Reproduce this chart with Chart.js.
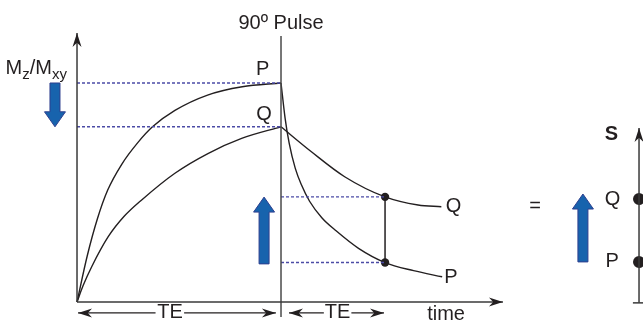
<!DOCTYPE html>
<html>
<head>
<meta charset="utf-8">
<script src="https://cdn.jsdelivr.net/npm/chart.js@4.4.1/dist/chart.umd.min.js"></script>
<style>
  html, body { margin: 0; padding: 0; background: #fff; }
  #wrap { width: 643px; height: 324px; }
</style>
</head>
<body>
<div id="wrap"><canvas id="relaxChart"></canvas></div>
<script>
// --- values ---
// time: 0 = start of recovery, 100 = 90º pulse; signal: 0 = baseline, 100 = P before the pulse
const recoveryPTime   = [0, 5, 10, 15, 22, 30, 37, 48, 64, 81, 100];
const recoveryPSignal = [0, 21, 38, 51, 63, 73, 80, 87.5, 94.5, 98.3, 100];
const recoveryQTime   = [0, 3, 7.2, 15.3, 23, 31.7, 48, 64.4, 80.7, 100];
const recoveryQSignal = [0, 7.5, 16.1, 29.8, 39, 46.6, 58.8, 67.9, 74.7, 80];

const decayPTime   = [100, 102, 104, 107, 110, 114, 120, 127, 138, 151, 165, 179];
const decayPSignal = [100, 84, 72.5, 61, 53.5, 46, 38.5, 32.5, 24.5, 18, 14.3, 11.5];
const decayQTime   = [100, 114.9, 131.2, 151, 167.2, 178.6];
const decayQSignal = [80, 68.6, 57.2, 48, 44.3, 43.5];

const pulseTime = 100;
const echoTime = 151;
const echoQ = 48;
const echoP = 18;

// right-hand signal scale
const signalAxisTime = 275.5;
const signalQ = 47;
const signalP = 18.3;

// TE spans (start, end of each arrow half)
const teLeftSpan  = [[0.5, 38.5], [52.5, 97.5]];
const teRightSpan = [[103.9, 121], [134.5, 150.5]];
const teLevel = -5;

// blue block arrows: time, from, to
const blockArrowTime = [-10.8, 91.7, 248];
const blockArrowFrom = [100, 17.4, 18.3];
const blockArrowTo   = [80, 47.9, 49.3];

// plain labels
const labelText   = ['90º Pulse', 'P', 'Q', 'Q', 'P', 'time', 'TE', 'TE', '=', 'S', 'Q', 'P'];
const labelTime   = [100, 91, 91.7, 184.6, 183.3, 180.9, 45.6, 127.7, 224.5, 262, 262.5, 262.3];
const labelSignal = [127, 106, 85.4, 43.6, 11.2, -5.6, -5, -5, 43.4, 76.3, 47, 18.3];
const labelBold   = [false, false, false, false, false, false, false, false, false, true, false, false];

const toPoints = (xs, ys) => xs.map((x, i) => ({ x: x, y: ys[i] }));

const INK = '#231f20';
const AXIS = '#3a3a3a';
const DASH = '#4b4ba6';
const FONT = '"Liberation Sans", Arial, sans-serif';

function line(data, extra) {
    return Object.assign({
        data: data,
        showLine: true,
        borderColor: AXIS,
        borderWidth: 1.5,
        pointRadius: 0,
        fill: false
    }, extra || {});
}

function dashed(data) {
    return line(data, { borderColor: DASH, borderWidth: 1.4, borderDash: [3, 2] });
}

function curve(data) {
    return line(data, { borderColor: INK, borderWidth: 1.4, cubicInterpolationMode: 'monotone' });
}

// stealth arrowhead
function drawHead(ctx, x, y, ang, len, half) {
    ctx.save();
    ctx.translate(x, y);
    ctx.rotate(ang);
    ctx.beginPath();
    ctx.moveTo(0, 0);
    ctx.lineTo(-len, -half);
    ctx.lineTo(-len * 0.7, 0);
    ctx.lineTo(-len, half);
    ctx.closePath();
    ctx.fill();
    ctx.restore();
}

const arrowPlugin = {
    id: 'lineArrows',
    afterDatasetsDraw(chart) {
        const ctx = chart.ctx;
        const xs = chart.scales.x, ys = chart.scales.y;
        chart.data.datasets.forEach(ds => {
            if (!ds.arrowEnd && !ds.arrowStart) return;
            const pts = ds.data.map(p => [xs.getPixelForValue(p.x), ys.getPixelForValue(p.y)]);
            ctx.fillStyle = ds.headColor || INK;
            if (ds.arrowEnd) {
                const a = pts[pts.length - 2], b = pts[pts.length - 1];
                drawHead(ctx, b[0], b[1], Math.atan2(b[1] - a[1], b[0] - a[0]), 14, 4.5);
            }
            if (ds.arrowStart) {
                const a = pts[1], b = pts[0];
                drawHead(ctx, b[0], b[1], Math.atan2(b[1] - a[1], b[0] - a[0]), 14, 4.5);
            }
        });
    }
};

const blockArrowPlugin = {
    id: 'blockArrows',
    afterDatasetsDraw(chart) {
        const ctx = chart.ctx;
        const xs = chart.scales.x, ys = chart.scales.y;
        blockArrowTime.forEach((t, i) => {
            const x = xs.getPixelForValue(t);
            const y0 = ys.getPixelForValue(blockArrowFrom[i]);
            const y1 = ys.getPixelForValue(blockArrowTo[i]);
            const dir = y1 > y0 ? 1 : -1;
            const head = 15, shaft = 5, wing = 10.5;
            const yb = y1 - dir * head;
            ctx.beginPath();
            ctx.moveTo(x - shaft, y0);
            ctx.lineTo(x - shaft, yb);
            ctx.lineTo(x - wing, yb);
            ctx.lineTo(x, y1);
            ctx.lineTo(x + wing, yb);
            ctx.lineTo(x + shaft, yb);
            ctx.lineTo(x + shaft, y0);
            ctx.closePath();
            ctx.fillStyle = '#1763ad';
            ctx.fill();
            ctx.strokeStyle = '#2e3f8f';
            ctx.lineWidth = 1;
            ctx.stroke();
        });
    }
};

const labelPlugin = {
    id: 'diagramLabels',
    afterDatasetsDraw(chart) {
        const ctx = chart.ctx;
        const xs = chart.scales.x, ys = chart.scales.y;
        ctx.save();
        ctx.fillStyle = INK;
        ctx.textAlign = 'center';
        ctx.textBaseline = 'middle';
        labelText.forEach((txt, i) => {
            ctx.font = (labelBold[i] ? 'bold ' : '') + '20px ' + FONT;
            ctx.fillText(txt, xs.getPixelForValue(labelTime[i]), ys.getPixelForValue(labelSignal[i]));
        });
        // y axis title with subscripts: Mz/Mxy
        const parts = [['M', false], ['z', true], ['/M', false], ['xy', true]];
        let x = xs.getPixelForValue(-35);
        const base = ys.getPixelForValue(104.3);
        ctx.textAlign = 'left';
        ctx.textBaseline = 'alphabetic';
        parts.forEach(([s, sub]) => {
            ctx.font = (sub ? '15px ' : '20px ') + FONT;
            ctx.fillText(s, x, sub ? base + 5 : base);
            x += ctx.measureText(s).width;
        });
        ctx.restore();
    }
};

const datasets = [
    // axes
    line([{ x: 0, y: 0 }, { x: 0, y: 122.8 }], { arrowEnd: true }),
    line([{ x: 0, y: 0 }, { x: 208.8, y: 0 }], { arrowEnd: true }),
    line([{ x: pulseTime, y: -6.8 }, { x: pulseTime, y: 121.5 }], { borderColor: '#4a4a4a' }),
    // guide lines
    dashed([{ x: 0, y: 100 }, { x: pulseTime, y: 100 }]),
    dashed([{ x: 0, y: 80 }, { x: pulseTime, y: 80 }]),
    dashed([{ x: pulseTime, y: echoQ }, { x: echoTime, y: echoQ }]),
    dashed([{ x: pulseTime, y: echoP }, { x: echoTime, y: echoP }]),
    // relaxation curves
    curve(toPoints(recoveryPTime, recoveryPSignal)),
    curve(toPoints(recoveryQTime, recoveryQSignal)),
    curve(toPoints(decayPTime, decayPSignal)),
    curve(toPoints(decayQTime, decayQSignal)),
    // echo readout
    line([{ x: echoTime, y: echoP }, { x: echoTime, y: echoQ }], { borderColor: INK }),
    { data: [{ x: echoTime, y: echoQ }, { x: echoTime, y: echoP }], pointRadius: 4.2,
      pointBackgroundColor: INK, pointBorderWidth: 0, showLine: false },
    // TE arrows
    line([{ x: teLeftSpan[0][0], y: teLevel }, { x: teLeftSpan[0][1], y: teLevel }], { borderColor: INK, borderWidth: 1.3, arrowStart: true }),
    line([{ x: teLeftSpan[1][0], y: teLevel }, { x: teLeftSpan[1][1], y: teLevel }], { borderColor: INK, borderWidth: 1.3, arrowEnd: true }),
    line([{ x: teRightSpan[0][0], y: teLevel }, { x: teRightSpan[0][1], y: teLevel }], { borderColor: INK, borderWidth: 1.3, arrowStart: true }),
    line([{ x: teRightSpan[1][0], y: teLevel }, { x: teRightSpan[1][1], y: teLevel }], { borderColor: INK, borderWidth: 1.3, arrowEnd: true }),
    // right-hand signal axis
    line([{ x: signalAxisTime, y: -0.4 }, { x: signalAxisTime, y: 79.5 }], { arrowEnd: true }),
    line([{ x: 272.5, y: -0.4 }, { x: 278, y: -0.4 }]),
    { data: [{ x: signalAxisTime, y: signalQ }, { x: signalAxisTime, y: signalP }], pointRadius: 6,
      pointBackgroundColor: INK, pointBorderWidth: 0, showLine: false }
];

new Chart(document.getElementById('relaxChart'), {
    type: 'scatter',
    data: { datasets: datasets },
    options: {
        responsive: true,
        maintainAspectRatio: false,
        animation: false,
        layout: { padding: 0, autoPadding: false },
        scales: {
            x: { type: 'linear', display: false, min: -37.75, max: 277.45 },
            y: { type: 'linear', display: false, min: -10.05, max: 137.9 }
        },
        plugins: { legend: { display: false }, tooltip: { enabled: false } }
    },
    plugins: [arrowPlugin, blockArrowPlugin, labelPlugin]
});
</script>
</body>
</html>
